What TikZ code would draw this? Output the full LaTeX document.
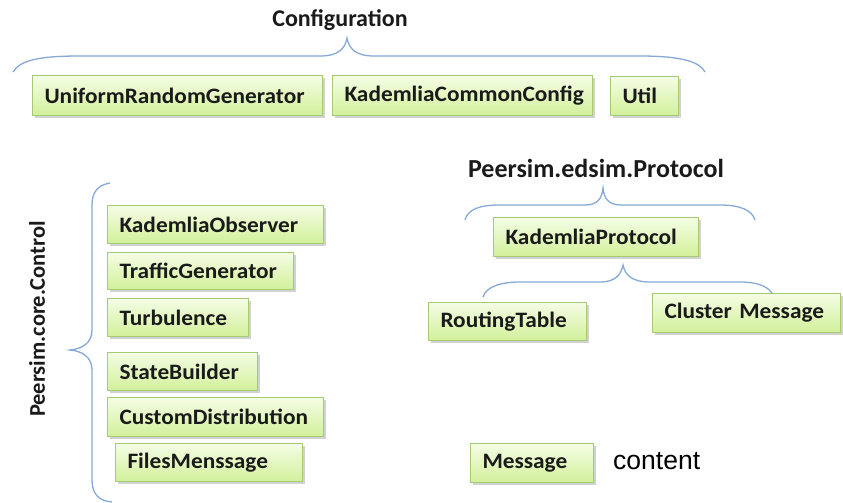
\documentclass[tikz,border=0pt]{standalone}
\usepackage{fontspec}
\setmainfont{Carlito}
\newfontfamily\boxfont{Carlito}[FakeStretch=1.06]
\newfontfamily\arialfont{Liberation Sans}
\usetikzlibrary{shadows}
\definecolor{boxtop}{HTML}{F5FDE6}
\definecolor{boxbot}{HTML}{D2F09A}
\definecolor{boxline}{HTML}{A3CC72}
\definecolor{bracecol}{HTML}{86A9D6}
\definecolor{txt}{HTML}{1A1A1A}
\tikzset{
  box/.style={draw=boxline, line width=1pt, top color=boxtop, bottom color=boxbot,
    anchor=north west, inner xsep=12pt, inner ysep=0pt, align=left,
    font=\boxfont\fontsize{22}{24}\selectfont\bfseries, text=txt,
    drop shadow={opacity=0.35, shadow xshift=2pt, shadow yshift=-2.5pt}},
  title/.style={font=\fontsize{24}{27}\selectfont\bfseries, text=txt, inner sep=0pt},
  bracepath/.style={draw=bracecol, line width=1.3pt}
}
\begin{document}
\begin{tikzpicture}[x=1pt,y=-1pt]
\useasboundingbox (0,0) rectangle (843,503);
\fill[white] (0,0) rectangle (843,503);

% Configuration group
\node[title] (conf) at (340,20) {Configuration};
\draw[bracepath] (13,72) .. controls (20,60) and (40,56) .. (80,56) -- (320,56)
  .. controls (338,56) and (345,49) .. (347,38)
  .. controls (349,49) and (356,56) .. (374,56) -- (640,56)
  .. controls (682,56) and (700,62) .. (705,72);
\node[box, minimum width=290pt, minimum height=40pt, text width=266pt] (urg) at (32,75) {UniformRandomGenerator};
\node[box, minimum width=260pt, minimum height=40pt, text width=236pt] (kcc) at (332,75) {KademliaCommonConfig};
\node[box, minimum width=68pt, minimum height=39pt, text width=44pt] (util) at (610,76) {Util};

% Control group
\node[title, rotate=90, font=\fontsize{22.5}{25}\selectfont\bfseries] (ctrl) at (37,319) {Peersim.core.Control};
\draw[bracepath] (110,183) .. controls (98,185) and (92,192) .. (92,205) -- (92,330)
  .. controls (92,343) and (82,349) .. (70,350)
  .. controls (82,351) and (92,357) .. (92,370) -- (92,480)
  .. controls (92,494) and (99,501) .. (112,502);
\node[box, minimum width=216pt, minimum height=38pt, text width=192pt] (ko) at (107,205) {KademliaObserver};
\node[box, minimum width=186pt, minimum height=37pt, text width=162pt] (tg) at (107,252) {TrafficGenerator};
\node[box, minimum width=141pt, minimum height=38pt, text width=117pt] (tu) at (107,298) {Turbulence};
\node[box, minimum width=150pt, minimum height=38pt, text width=126pt] (sb) at (107,352) {StateBuilder};
\node[box, minimum width=216pt, minimum height=39pt, text width=192pt] (cd) at (107,397) {CustomDistribution};
\node[box, minimum width=187pt, minimum height=38pt, text width=163pt] (fm) at (115,443) {FilesMenssage};

% Protocol group
\node[title, font=\fontsize{26}{29}\selectfont\bfseries] (proto) at (596,168) {Peersim.edsim.Protocol};
\draw[bracepath] (465,220) .. controls (468,209) and (480,205) .. (500,205) -- (585,205)
  .. controls (598,205) and (602,198) .. (603,188)
  .. controls (604,198) and (608,205) .. (621,205) -- (720,205)
  .. controls (740,205) and (752,210) .. (755,220);
\node[box, minimum width=205pt, minimum height=39pt, text width=181pt] (kp) at (493,217) {KademliaProtocol};
\draw[bracepath] (483,297) .. controls (486,287) and (500,282) .. (520,282) -- (600,282)
  .. controls (615,282) and (621,275) .. (623,265)
  .. controls (625,275) and (632,282) .. (650,282) -- (740,282)
  .. controls (760,282) and (770,288) .. (773,295);
\node[box, minimum width=158pt, minimum height=38pt, text width=134pt] (rt) at (428,302) {RoutingTable};
\node[box, minimum width=188pt, minimum height=39pt, text width=164pt] (cm) at (652,293) {Cluster Message};

% Message
\node[box, minimum width=123pt, minimum height=39pt, text width=99pt] (msg) at (470,443) {Message};
\node[anchor=west, inner sep=0pt, font=\arialfont\fontsize{26.5}{28}\selectfont, text=black] (content) at (613,461) {content};
\end{tikzpicture}
\end{document}
